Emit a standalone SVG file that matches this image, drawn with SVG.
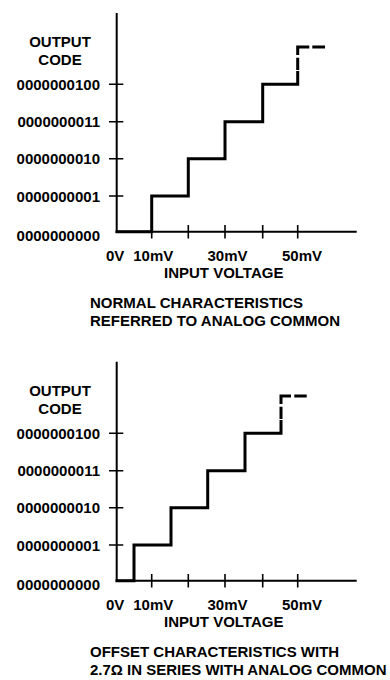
<svg xmlns="http://www.w3.org/2000/svg" width="390" height="680" viewBox="0 0 390 680">
<style>
text{font-family:"Liberation Sans",Arial,sans-serif;font-weight:bold;font-size:15px;fill:#000}
.axis{stroke:#000;stroke-width:2;fill:none}
.tick{stroke:#000;stroke-width:1.6;fill:none}
.stair{stroke:#000;stroke-width:3;fill:none;stroke-linejoin:miter;stroke-linecap:square}
.dash{stroke:#000;stroke-width:3;fill:none;stroke-linecap:butt}
.ylab{text-anchor:end}
.mid{text-anchor:middle}
</style>
<rect width="390" height="680" fill="#fff"/>
<defs>
<g id="ticks">
<path class="tick" d="M109 84.3H123.3M109 121.7H123.3M109 158.7H123.3M109 196H123.3"/>
<path class="tick" d="M151.7 225V238.5M188.3 225V238.5M225 225V238.5M262.7 225V238.5M297.7 225V238.5"/>
</g>
</defs>
<g id="chart-normal">
<path class="axis" d="M116.7 13V231.7H356.7"/>
<use href="#ticks"/>
<path class="stair" d="M117 231.7H151.7V196H188.3V158.7H225V121.7H262.7V84.3H297.7V72.5"/>
<path class="dash" d="M297.7 70V57.7M297.7 55V47H309.3M312.3 47H325"/>
<text x="60" y="46.7" class="mid">OUTPUT</text>
<text x="60" y="65" class="mid">CODE</text>
<text x="100" y="89.8" class="ylab">0000000100</text>
<text x="100" y="127.2" class="ylab">0000000011</text>
<text x="100" y="164.2" class="ylab">0000000010</text>
<text x="100" y="201.6" class="ylab">0000000001</text>
<text x="100" y="240.5" class="ylab">0000000000</text>
<text x="106" y="260.7">0V</text>
<text x="153.3" y="260.7" class="mid">10mV</text>
<text x="227.5" y="260.7" class="mid">30mV</text>
<text x="302" y="260.7" class="mid">50mV</text>
<text x="223.7" y="278.3" class="mid">INPUT VOLTAGE</text>
<text x="90" y="308.3">NORMAL CHARACTERISTICS</text>
<text x="90" y="326">REFERRED TO ANALOG COMMON</text>
</g>
<g id="chart-offset">
<path class="axis" d="M116.7 361.7V580.7H356.7"/>
<use href="#ticks" transform="translate(0,349)"/>
<path class="stair" d="M117 580.7H134V545H171V507.7H207.7V470.7H245V433.3H281V421.5"/>
<path class="dash" d="M281 419V406.7M281 404V396H291M294.3 396H306.7"/>
<text x="60" y="395.7" class="mid">OUTPUT</text>
<text x="60" y="414" class="mid">CODE</text>
<text x="100" y="438.8" class="ylab">0000000100</text>
<text x="100" y="476.2" class="ylab">0000000011</text>
<text x="100" y="513.2" class="ylab">0000000010</text>
<text x="100" y="550.6" class="ylab">0000000001</text>
<text x="100" y="589.5" class="ylab">0000000000</text>
<text x="106" y="609.7">0V</text>
<text x="153.3" y="609.7" class="mid">10mV</text>
<text x="227.5" y="609.7" class="mid">30mV</text>
<text x="302" y="609.7" class="mid">50mV</text>
<text x="223.7" y="627.3" class="mid">INPUT VOLTAGE</text>
<text x="90" y="657.3">OFFSET CHARACTERISTICS WITH</text>
<text x="90" y="675">2.7Ω IN SERIES WITH ANALOG COMMON</text>
</g>
</svg>
